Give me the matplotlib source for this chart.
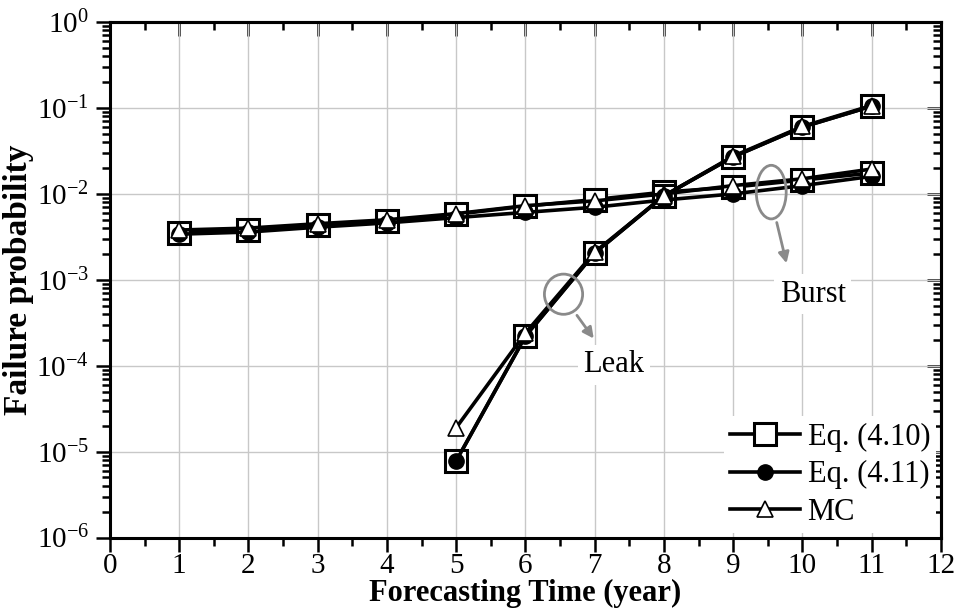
import math
import matplotlib
matplotlib.use("Agg")
import matplotlib.pyplot as plt
from matplotlib.patches import Ellipse
from matplotlib.ticker import LogLocator, NullFormatter, MultipleLocator

plt.rcParams['font.family'] = ['Liberation Serif', 'DejaVu Serif']
plt.rcParams['mathtext.fontset'] = 'custom'
plt.rcParams['mathtext.rm'] = 'Liberation Serif'
plt.rcParams['mathtext.it'] = 'Liberation Serif:italic'
plt.rcParams['mathtext.bf'] = 'Liberation Serif:bold'
plt.rcParams['axes.unicode_minus'] = False

years = [1, 2, 3, 4, 5, 6, 7, 8, 9, 10, 11]
burst_eq410 = [3.5e-3, 3.8e-3, 4.3e-3, 4.8e-3, 5.8e-3, 7.2e-3, 8.6e-3, 1.05e-2, 1.2e-2, 1.45e-2, 1.75e-2]
burst_eq411 = [3.4e-3, 3.6e-3, 4.1e-3, 4.6e-3, 5.3e-3, 6.1e-3, 7.0e-3, 8.5e-3, 1.0e-2, 1.25e-2, 1.6e-2]
burst_mc    = [3.8e-3, 4.0e-3, 4.5e-3, 5.0e-3, 5.9e-3, 7.3e-3, 8.3e-3, 1.0e-2, 1.25e-2, 1.5e-2, 1.95e-2]

leak_years = [5, 6, 7, 8, 9, 10, 11]
leak_eq410 = [7.8e-6, 2.2e-4, 2.05e-3, 9.5e-3, 2.7e-2, 6.0e-2, 1.05e-1]
leak_eq411 = [7.8e-6, 2.2e-4, 2.05e-3, 9.5e-3, 2.7e-2, 6.0e-2, 1.05e-1]
leak_mc    = [1.9e-5, 2.4e-4, 2.1e-3, 9.5e-3, 2.75e-2, 6.1e-2, 1.07e-1]

labels = ['Eq. (4.10)', 'Eq. (4.11)', 'MC']
xticks = list(range(0, 13))

fig = plt.figure(figsize=(9.65, 6.15), dpi=100)
ax = fig.add_axes([0.114, 0.126, 0.861, 0.838])

lw = 2.6
sq = dict(marker='s', ms=16, mfc='white', mec='black', mew=2.2, color='black', lw=lw)
ci = dict(marker='o', ms=11, mfc='black', mec='black', color='black', lw=lw)
tr = dict(marker='^', ms=12, mfc='white', mec='black', mew=1.2, color='black', lw=lw)

ax.plot(years, burst_eq410, label=labels[0], zorder=3, **sq)
ax.plot(leak_years, leak_eq410, zorder=3, **sq)
ax.plot(years, burst_eq411, label=labels[1], zorder=4, **ci)
ax.plot(leak_years, leak_eq411, zorder=4, **ci)
ax.plot(years, burst_mc, label=labels[2], zorder=5, **tr)
ax.plot(leak_years, leak_mc, zorder=5, **tr)

ax.set_yscale('log')
ax.set_xlim(0, 12)
ax.set_ylim(1e-6, 1)
ax.set_xticks(xticks)
ax.xaxis.set_minor_locator(MultipleLocator(0.5))
ax.yaxis.set_major_locator(LogLocator(base=10, numticks=10))
ax.yaxis.set_minor_locator(LogLocator(base=10, subs=range(2, 10), numticks=100))
ax.yaxis.set_minor_formatter(NullFormatter())

ax.grid(True, which='major', color='#c8c8c8', lw=1.0, zorder=0)
ax.tick_params(which='both', direction='out', labelsize=21, width=1.8)
ax.tick_params(which='major', length=10)
ax.tick_params(which='minor', length=6)
ax.tick_params(axis='x', which='major', pad=1)
ax.tick_params(axis='y', which='major', pad=5)
for s in ax.spines.values():
    s.set_linewidth(2.2)

# mirrored ticks on top / right, pointing into the plot
top = ax.secondary_xaxis('top')
top.set_xticks(xticks)
top.xaxis.set_minor_locator(MultipleLocator(0.5))
top.tick_params(which='both', direction='in', labeltop=False, width=1.8)
top.tick_params(which='major', length=10)
top.tick_params(which='minor', length=6)
top.spines['top'].set_linewidth(2.2)

right = ax.secondary_yaxis('right')
right.yaxis.set_major_locator(LogLocator(base=10, numticks=10))
right.yaxis.set_minor_locator(LogLocator(base=10, subs=range(2, 10), numticks=100))
right.tick_params(which='both', direction='in', labelright=False, width=1.8)
right.tick_params(which='major', length=10)
right.tick_params(which='minor', length=6)
right.spines['right'].set_linewidth(2.2)

ax.set_xlabel('Forecasting Time (year)', fontsize=22, fontweight='bold', labelpad=0)
ax.set_ylabel('Failure probability', fontsize=24, fontweight='bold', labelpad=2)

gray = '#8a8a8a'

def yfrac(v):
    return (math.log10(v) + 6) / 6.0

def ell(xc, yv, w, h):
    e = Ellipse((xc / 12.0, yfrac(yv)), w, h, transform=ax.transAxes, fill=False,
                ec=gray, lw=2.0, zorder=6)
    ax.add_patch(e)

ell(6.55, 6.8e-4, 0.046, 0.078)
ell(9.55, 1.05e-2, 0.036, 0.104)

ax.annotate('', xy=(7.01, 1.95e-4), xytext=(6.72, 4.1e-4),
            arrowprops=dict(arrowstyle='-|>', color=gray, lw=2.0, mutation_scale=16), zorder=6)
ax.annotate('', xy=(9.78, 1.45e-3), xytext=(9.62, 5.0e-3),
            arrowprops=dict(arrowstyle='-|>', color=gray, lw=2.0, mutation_scale=16), zorder=6)

ax.text(7.28, 1.02e-4, 'Leak', fontsize=22, ha='center', va='center',
        bbox=dict(fc='white', ec='none', pad=4), zorder=6)
ax.text(10.15, 6.8e-4, 'Burst', fontsize=22, ha='center', va='center',
        bbox=dict(fc='white', ec='none', pad=4), zorder=6)

leg = ax.legend(loc='lower right', fontsize=22, frameon=True, framealpha=1,
                edgecolor='none', handlelength=2.3, handletextpad=0.25,
                labelspacing=0.28, borderaxespad=0.15, borderpad=0.2)

fig.savefig('out.png', dpi=100)
